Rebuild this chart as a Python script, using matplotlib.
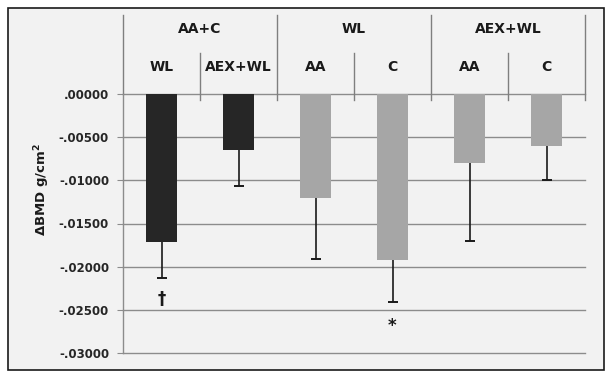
import matplotlib.pyplot as plt
from matplotlib.patches import Rectangle
from matplotlib.ticker import FuncFormatter

# data
top_groups = ['AA+C', 'WL', 'AEX+WL']
sub_labels = ['WL', 'AEX+WL', 'AA', 'C', 'AA', 'C']
means = [-0.0172, -0.0065, -0.0121, -0.0192, -0.0080, -0.0060]
errs = [0.0041, 0.0041, 0.0070, 0.0049, 0.0090, 0.0040]
colors = ['#262626', '#262626', '#a6a6a6', '#a6a6a6', '#a6a6a6', '#a6a6a6']
marks = [(0, -0.0237, '\u2020'), (3, -0.0269, '*')]
yticks = [0, -0.005, -0.010, -0.015, -0.020, -0.025, -0.030]


def fmt(v, pos):
    s = f'{v:.5f}'
    if v >= 0:
        return s.lstrip('0') if s.startswith('0') else s
    return '-' + s[2:]


def main():
    fig = plt.figure(figsize=(6.11, 3.78), dpi=100)
    fig.patch.set_facecolor('white')
    fig.patches.append(Rectangle((8 / 611, 1 - 370 / 378), 596 / 611, 362 / 378,
                                 transform=fig.transFigure, facecolor='#f2f2f2',
                                 edgecolor='#1a1a1a', linewidth=1.2, zorder=-1))

    ax = fig.add_axes([123 / 611, 1 - 353 / 378, 462 / 611, 259 / 378])
    ax.set_zorder(2)
    ax.set_facecolor('none')
    x = list(range(len(means)))
    for t in yticks:
        ax.axhline(t, color='#8c8c8c', linewidth=1.0, zorder=1, clip_on=False)
    ax.bar(x, means, width=0.41, color=colors, zorder=3)
    lower = [m - e for m, e in zip(means, errs)]
    ax.vlines(x, lower, means, color='#1a1a1a', linewidth=1.2, zorder=4)
    ax.scatter(x, lower, marker='_', s=60, color='#1a1a1a', linewidths=1.4, zorder=4)
    for xi, yi, s in marks:
        ax.text(xi, yi, s, ha='center', va='center', fontsize=12, fontweight='bold',
                color='#1a1a1a')

    ax.set_xlim(-0.5, 5.5)
    ax.set_ylim(-0.030, 0)
    ax.set_yticks(yticks)
    ax.yaxis.set_major_formatter(FuncFormatter(fmt))
    for side in ['top', 'right', 'bottom']:
        ax.spines[side].set_visible(False)
    ax.spines['left'].set_color('#8c8c8c')
    ax.spines['left'].set_linewidth(1.0)
    ax.set_xticks([])
    ax.tick_params(axis='y', length=4, color='#8c8c8c', labelsize=8.5, pad=6)
    for lab in ax.get_yticklabels():
        lab.set_fontweight('bold')
        lab.set_color('#262626')

    # category header
    tr = ax.get_xaxis_transform()
    lc = '#7f7f7f'
    ax.plot([-0.5, -0.5], [1.0, 1.305], transform=tr, color=lc, lw=1, clip_on=False)
    for b in [1.5, 3.5, 5.5]:
        ax.plot([b, b], [0.977, 1.305], transform=tr, color=lc, lw=1, clip_on=False)
    for b in [0.5, 2.5, 4.5]:
        ax.plot([b, b], [0.977, 1.158], transform=tr, color=lc, lw=1, clip_on=False)
    for i, g in enumerate(top_groups):
        ax.text(2 * i + 0.5, 1.251, g, transform=tr, ha='center', va='center',
                fontsize=10, fontweight='bold', color='#1a1a1a')
    for i, s in enumerate(sub_labels):
        ax.text(i, 1.104, s, transform=tr, ha='center', va='center',
                fontsize=10, fontweight='bold', color='#1a1a1a')

    fig.text(42 / 611, 1 - 190 / 378, '\u0394BMD g/cm$^\\mathbf{2}$', rotation=90,
             ha='center', va='center', fontsize=9.5, fontweight='bold', color='#1a1a1a')

    fig.savefig('out.png', dpi=100)


if __name__ == '__main__':
    main()
